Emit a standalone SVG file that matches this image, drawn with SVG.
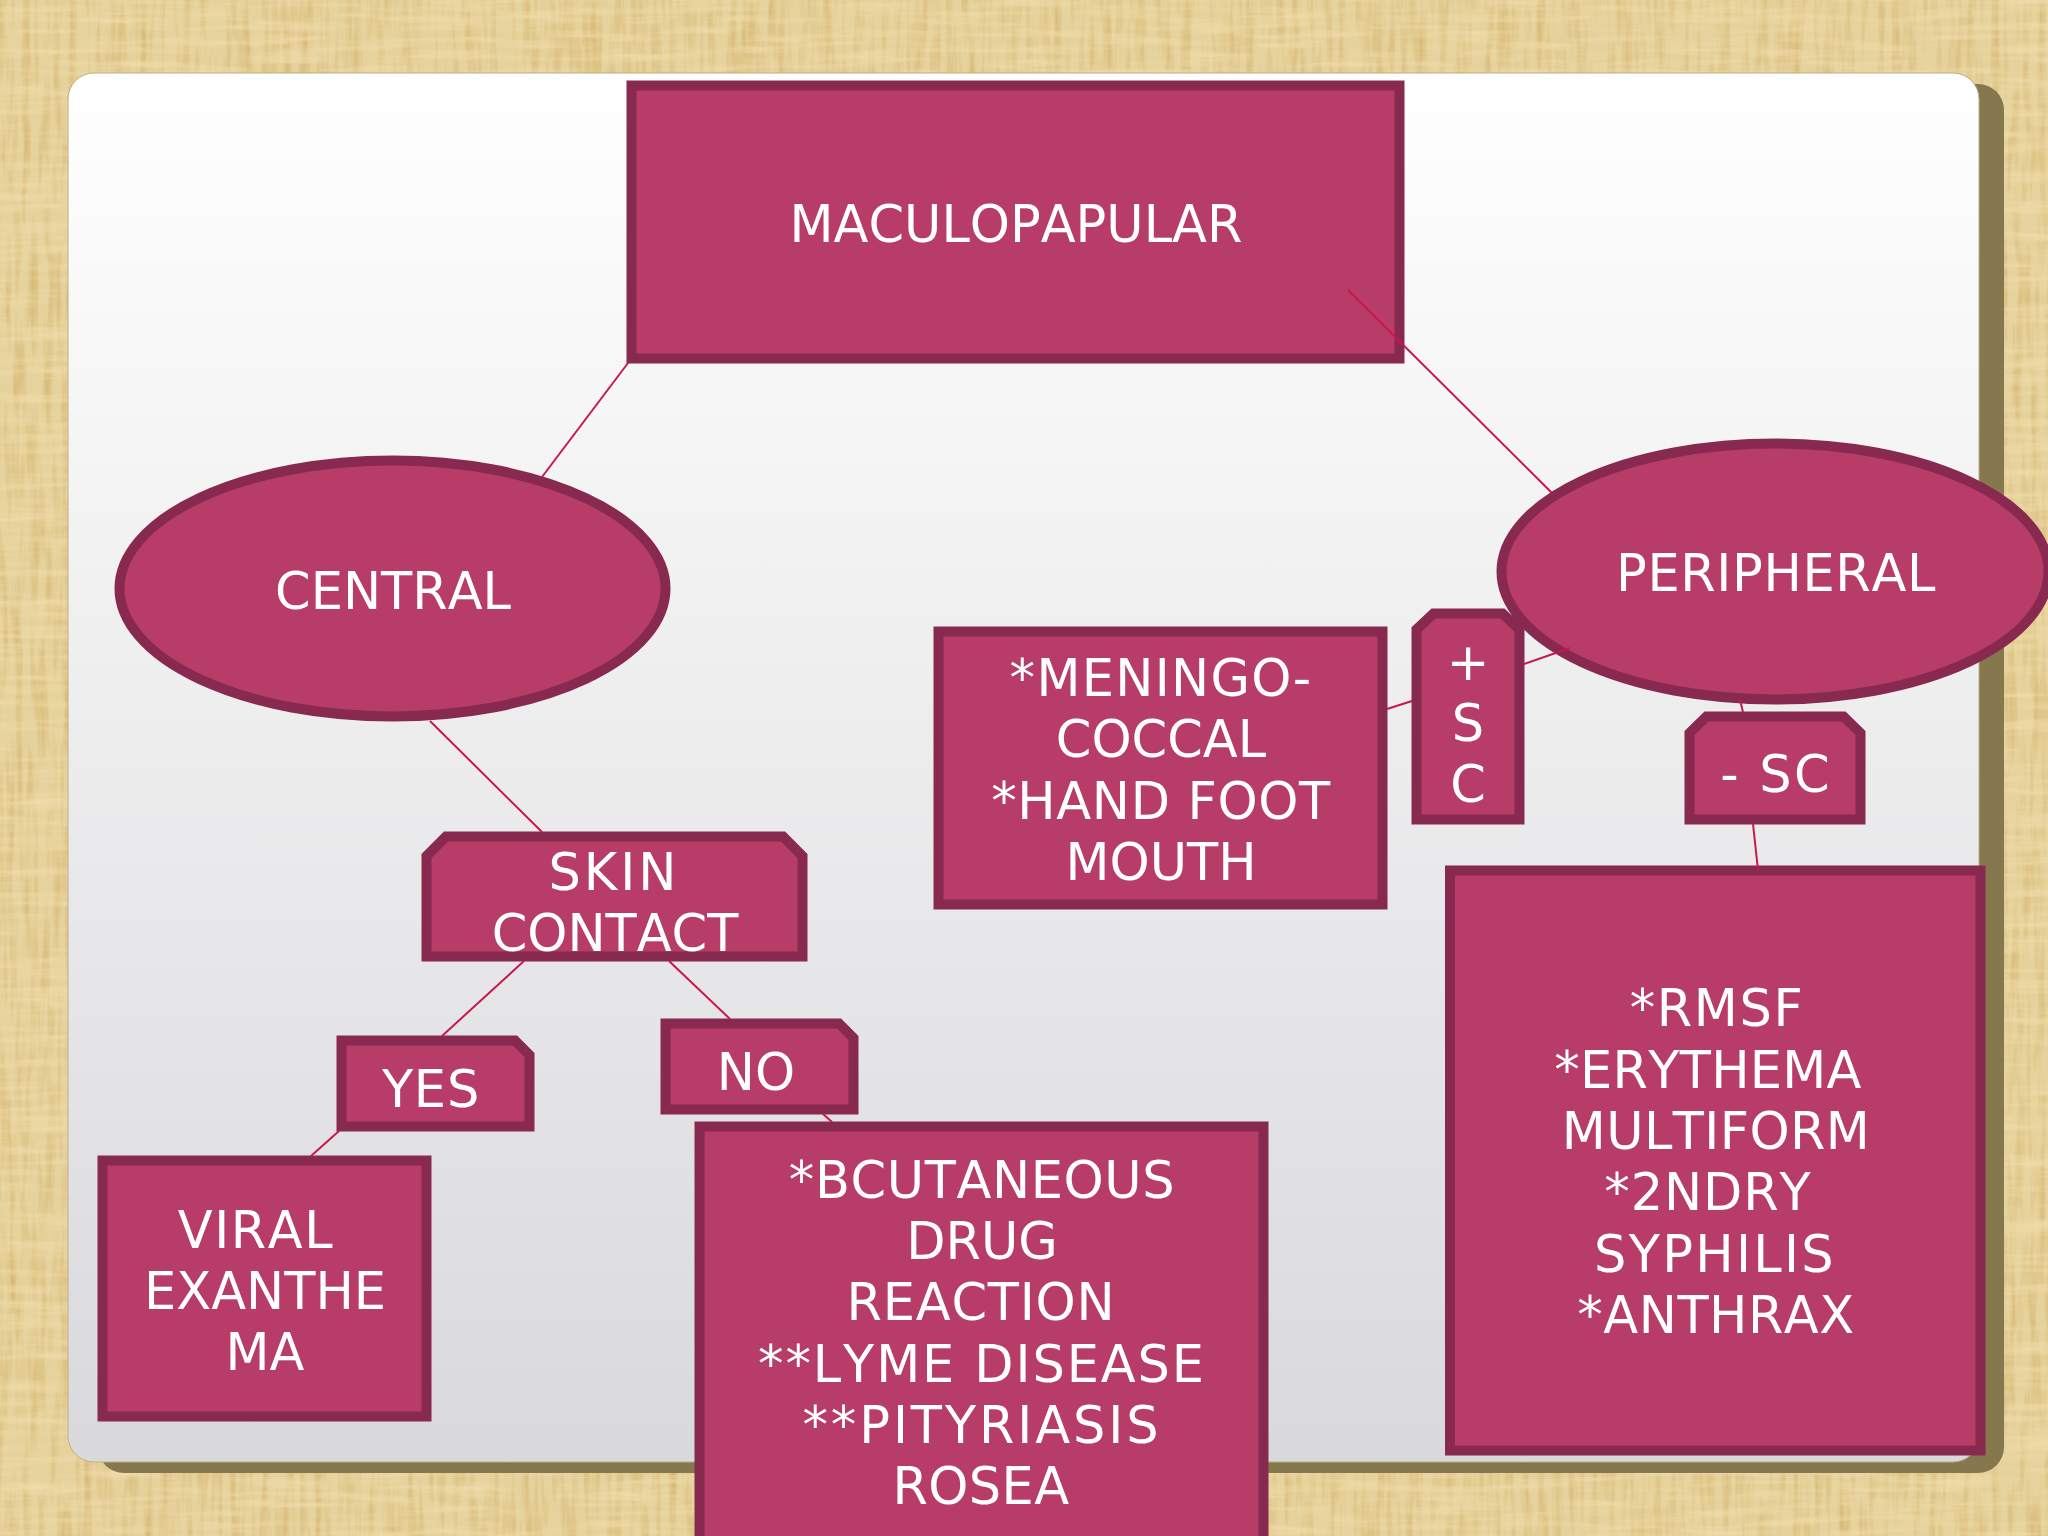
<svg xmlns="http://www.w3.org/2000/svg" width="2048" height="1536" viewBox="0 0 2048 1536">
<defs>
<linearGradient id="panelGrad" x1="0" y1="0" x2="0" y2="1"><stop offset="0" stop-color="#ffffff"/><stop offset="1" stop-color="#d9d9dc"/></linearGradient>
<filter id="weaveV" x="0" y="0" width="100%" height="100%" color-interpolation-filters="sRGB">
<feTurbulence type="fractalNoise" baseFrequency="0.13 0.012" numOctaves="3" seed="4"/>
<feColorMatrix type="matrix" values="0 0 0 0 0.83  0 0 0 0 0.70  0 0 0 0 0.42  1.7 0 0 0 -0.72"/>
</filter>
<filter id="weaveH" x="0" y="0" width="100%" height="100%" color-interpolation-filters="sRGB">
<feTurbulence type="fractalNoise" baseFrequency="0.012 0.13" numOctaves="3" seed="9"/>
<feColorMatrix type="matrix" values="0 0 0 0 0.95  0 0 0 0 0.87  0 0 0 0 0.68  1.7 0 0 0 -0.72"/>
</filter>
<style>
.node{fill:#b73c68;stroke:#88294f;stroke-width:10;stroke-linejoin:miter}
.link{stroke:#c8174f;stroke-width:2;fill:none}
text{font-family:"DejaVu Sans","Liberation Sans",sans-serif;font-size:51px;font-kerning:none;fill:#ffffff;text-anchor:middle}
</style>
</defs>
<g id="background">
<rect width="2048" height="1536" fill="#e6d29c"/>
<rect width="2048" height="1536" filter="url(#weaveV)"/>
<rect width="2048" height="1536" filter="url(#weaveH)"/>
<rect x="98" y="84" width="1906" height="1389" rx="26" fill="#85784f"/>
<rect x="68" y="73" width="1911" height="1389" rx="26" fill="url(#panelGrad)" stroke="#bfae80" stroke-width="1"/>
</g>
<g id="node-maculopapular"><rect class="node" x="631.500" y="85.500" width="768" height="273"/><text x="1016" y="242">MACULOPAPULAR</text></g>
<g id="node-central"><ellipse class="node" cx="392.500" cy="588.500" rx="273" ry="128"/><text x="393" y="609">CENTRAL</text></g>
<g id="node-peripheral"><ellipse class="node" cx="1775" cy="571.500" rx="273.500" ry="128"/><text x="1776" y="591" letter-spacing="0.650">PERIPHERAL</text></g>
<g id="node-plus-sc"><path class="node" d="M1416.500 819.500V629.500L1433.500 613.500H1502.500L1519.500 629.500V819.500Z"/><text x="1468" y="680">+</text><text x="1468" y="741">S</text><text x="1468" y="802">C</text></g>
<g id="node-minus-sc"><path class="node" d="M1689.500 819.500V733L1706.500 716.500H1843.500L1860.500 733V819.500Z"/><text x="1776" y="792" letter-spacing="2.200">- SC</text></g>
<g id="node-meningo"><rect class="node" x="938.500" y="631.500" width="444" height="273"/><text x="1161" y="696" letter-spacing="1.300">*MENINGO-</text><text x="1161" y="757">COCCAL</text><text x="1161" y="819" letter-spacing="0.650">*HAND FOOT</text><text x="1161" y="880">MOUTH</text></g>
<g id="node-rmsf"><rect class="node" x="1450" y="870.500" width="530.500" height="580"/><text x="1717" y="1026" letter-spacing="1.600">*RMSF</text><text x="1708" y="1088" letter-spacing="0.300">*ERYTHEMA</text><text x="1716" y="1149" letter-spacing="0.400">MULTIFORM</text><text x="1708" y="1210" letter-spacing="0.900">*2NDRY</text><text x="1715" y="1272" letter-spacing="2.300">SYPHILIS</text><text x="1716" y="1333" letter-spacing="0.500">*ANTHRAX</text></g>
<g id="node-skin"><path class="node" d="M426.500 956.500V856L446 836.500H783L802.500 856V956.500Z"/><text x="614" y="890" letter-spacing="3">SKIN</text><text x="615" y="951">CONTACT</text></g>
<g id="node-yes"><path class="node" d="M341.500 1126.500V1040.500H515L529.500 1055V1126.500Z"/><text x="431" y="1107" letter-spacing="0.800">YES</text></g>
<g id="node-no"><path class="node" d="M665.500 1109.500V1023.500H839L853.500 1038V1109.500Z"/><text x="756" y="1090">NO</text></g>
<g id="node-viral"><rect class="node" x="102.500" y="1160.500" width="324" height="256"/><text x="256" y="1248" letter-spacing="1.600">VIRAL</text><text x="265" y="1309">EXANTHE</text><text x="265" y="1370">MA</text></g>
<g id="node-bcutaneous"><rect class="node" x="699.500" y="1126.500" width="564" height="420"/><text x="982" y="1198" letter-spacing="0.600">*BCUTANEOUS</text><text x="982" y="1259">DRUG</text><text x="981" y="1320" letter-spacing="0.800">REACTION</text><text x="982" y="1382" letter-spacing="1.900">**LYME DISEASE</text><text x="982" y="1443" letter-spacing="2.900">**PITYRIASIS</text><text x="981" y="1504" letter-spacing="0.400">ROSEA</text></g>
<g id="connectors">
<line class="link" x1="628" y1="363" x2="542" y2="477"/>
<line class="link" x1="1348" y1="290" x2="1552" y2="493"/>
<line class="link" x1="430" y1="721" x2="542" y2="832"/>
<line class="link" x1="524" y1="961" x2="442" y2="1036"/>
<line class="link" x1="669" y1="961" x2="730" y2="1019"/>
<line class="link" x1="339" y1="1131" x2="311" y2="1156"/>
<line class="link" x1="823" y1="1114" x2="832" y2="1122"/>
<line class="link" x1="1387" y1="709" x2="1412" y2="701"/>
<line class="link" x1="1524" y1="664" x2="1570" y2="648"/>
<line class="link" x1="1740" y1="700" x2="1743" y2="712"/>
<line class="link" x1="1753" y1="824" x2="1758" y2="870"/>
</g>
</svg>
